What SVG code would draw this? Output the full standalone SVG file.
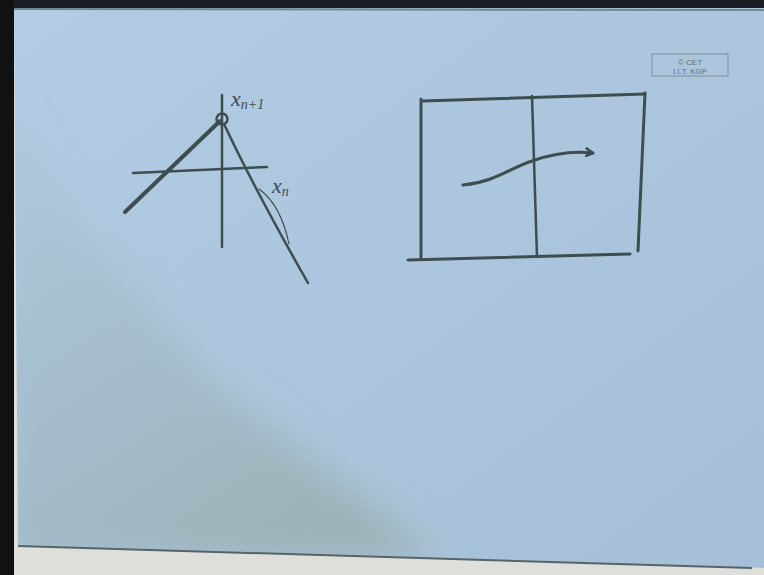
<svg xmlns="http://www.w3.org/2000/svg" width="764" height="575" viewBox="0 0 764 575">
<defs>
<style>
.ink{fill:none;stroke:#3d4d50;stroke-linecap:round;stroke-linejoin:round}
.lbl{font-family:"Liberation Serif",serif;font-style:italic;fill:#3d4d50}
.wm{font-family:"Liberation Sans",sans-serif;font-size:8px;fill:#5f7080}
</style>
<linearGradient id="paper" x1="0" y1="0" x2="1" y2="1">
<stop offset="0" stop-color="#b2cce3"/>
<stop offset="1" stop-color="#a5c0d6"/>
</linearGradient>
<linearGradient id="shade" x1="0" y1="0" x2="0.6" y2="1">
<stop offset="0" stop-color="#a4bccd" stop-opacity="0.2"/>
<stop offset="1" stop-color="#9bb1b4" stop-opacity="0.9"/>
</linearGradient>
<filter id="soft" x="-0.2" y="-0.2" width="1.4" height="1.4">
<feGaussianBlur stdDeviation="18"/>
</filter>
<clipPath id="paperClip"><polygon points="14,8 764,6 764,568 18,546"/></clipPath>
<marker id="ah" markerWidth="10" markerHeight="10" refX="8" refY="5" orient="auto" markerUnits="userSpaceOnUse">
<path d="M1,1 L8,5 L1,9" fill="none" stroke="#3d4d50" stroke-width="2.5" stroke-linecap="round" stroke-linejoin="round"/>
</marker>
</defs>
<rect width="764" height="575" fill="#dedfda"/>
<polygon points="14,8 764,6 764,568 18,546" fill="url(#paper)"/>
<g clip-path="url(#paperClip)">
<polygon points="0,90 60,200 220,390 440,560 0,560" fill="url(#shade)" filter="url(#soft)"/>
</g>
<line x1="18" y1="546" x2="752" y2="568" stroke="#56646a" stroke-width="2"/>
<rect x="0" y="0" width="764" height="8" fill="#1a1c26"/>
<line x1="14" y1="9" x2="764" y2="10" stroke="#6f8790" stroke-width="2"/>
<rect x="0" y="0" width="14" height="575" fill="#111"/>

<g id="watermark">
<rect x="652" y="54" width="76" height="22" fill="none" stroke="#7d8d9a" stroke-width="1"/>
<text class="wm" x="690" y="65" text-anchor="middle">© CET</text>
<text class="wm" x="690" y="74" text-anchor="middle">I.I.T. KGP</text>
</g>

<g id="left-sketch">
<line class="ink" x1="222" y1="95" x2="222" y2="247" stroke-width="2.5"/>
<line class="ink" x1="133" y1="173" x2="267" y2="167" stroke-width="2.5"/>
<line class="ink" x1="220" y1="121" x2="125" y2="212" stroke-width="4"/>
<circle class="ink" cx="222" cy="119" r="5.5" stroke-width="2.5"/>
<path class="ink" d="M224,124 Q255,190 308,283" stroke-width="2.5"/>
<path class="ink" d="M259,189 Q281,205 289,244" stroke-width="1.2"/>
<text class="lbl" x="231" y="106" font-size="22">x<tspan font-size="14" dy="3">n+1</tspan></text>
<text class="lbl" x="272" y="193" font-size="22">x<tspan font-size="14" dy="3">n</tspan></text>
</g>

<g id="right-sketch">
<line class="ink" x1="423" y1="101" x2="645" y2="94" stroke-width="3"/>
<line class="ink" x1="421" y1="99" x2="421" y2="259" stroke-width="3"/>
<line class="ink" x1="532" y1="96" x2="537" y2="257" stroke-width="2.5"/>
<line class="ink" x1="645" y1="93" x2="638" y2="251" stroke-width="3"/>
<line class="ink" x1="408" y1="260" x2="630" y2="254" stroke-width="3"/>
<path class="ink" d="M463,185 C495,182 510,168 532,161 C552,154 575,151 593,153" stroke-width="3" marker-end="url(#ah)"/>
</g>
</svg>
